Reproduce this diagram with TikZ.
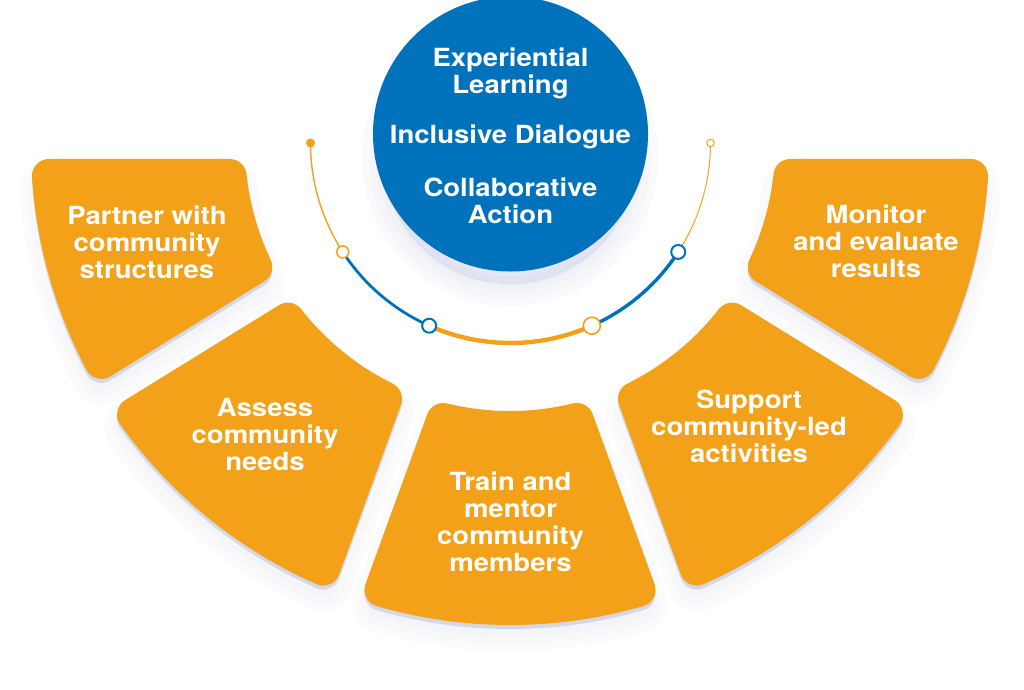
\documentclass[tikz,border=0pt]{standalone}
\usepackage{fontspec}
\setmainfont{TeX Gyre Heros}[FakeStretch=1.1]
\definecolor{cblue}{RGB}{0,114,188}
\definecolor{corange}{RGB}{244,161,26}
\definecolor{crim}{RGB}{212,215,232}
\definecolor{cshadow}{RGB}{160,165,205}
\newcommand\fanRo{479}
\newcommand\fanRi{265}
\newcommand\fanrho{17}
\newcommand\fancompute[4]{%
  \pgfmathsetmacro\fRo{\fanRo-\fanrho}%
  \pgfmathsetmacro\fRi{\fanRi+\fanrho}%
  \pgfmathsetmacro\aO{#1+asin((#3+\fanrho)/\fRo)}%
  \pgfmathsetmacro\bO{#2-asin((#4+\fanrho)/\fRo)}%
  \pgfmathsetmacro\aI{#1+asin((#3+\fanrho)/\fRi)}%
  \pgfmathsetmacro\bI{#2-asin((#4+\fanrho)/\fRi)}%
}
\newcommand\fanshape{(\aO:\fRo) arc[start angle=\aO,end angle=\bO,radius=\fRo] -- (\bI:\fRi) arc[start angle=\bI,end angle=\aI,radius=\fRi] -- cycle}
\begin{document}
\begin{tikzpicture}[x=1pt,y=-1pt,
  lbl/.style={text=white,font=\fontsize{25}{27}\selectfont\bfseries,anchor=base,inner sep=0pt},
  segfill/.style={fill=corange,draw=corange,line join=round,line width=2*\fanrho},
  segrim/.style={fill=crim,draw=crim,line join=round,line width=2*\fanrho},
  segshadow/.style={fill=cshadow,draw=cshadow,line join=round,opacity=0.04,line width=#1},
  dot/.style={circle,inner sep=0pt,fill=white}]
\useasboundingbox (0,0) rectangle (1024,689);

% ---------- shadow of the hub ----------
\foreach \w in {44,30,16,4}
  \path[fill=cshadow,draw=cshadow,opacity=0.05,line width=\w] (510,158) circle[radius=126];

% ---------- fan segments ----------
\begin{scope}[shift={(510,146)}]
  \foreach \lo/\hi/\dl/\dh in {148.3/180/14/13, 110/148.3/14/14, 70/110/14/14, 31.7/70/14/14, 0/31.7/13/14}{
    \fancompute{\lo}{\hi}{\dl}{\dh}
    \begin{scope}[shift={(0,14)}]
      \foreach \w in {58,44,30,16}
        \path[segshadow=\w] \fanshape;
    \end{scope}
  }
  \foreach \lo/\hi/\dl/\dh in {148.3/180/14/13, 110/148.3/14/14, 70/110/14/14, 31.7/70/14/14, 0/31.7/13/14}{
    \fancompute{\lo}{\hi}{\dl}{\dh}
    \path[segrim,shift={(0,4)}] \fanshape;
  }
  \foreach \lo/\hi/\dl/\dh in {148.3/180/14/13, 110/148.3/14/14, 70/110/14/14, 31.7/70/14/14, 0/31.7/13/14}{
    \fancompute{\lo}{\hi}{\dl}{\dh}
    \path[segfill] \fanshape;
  }
\end{scope}

% ---------- hub ----------
\node[circle,fill=cblue,minimum size=275,inner sep=0pt] (hub) at (510.5,134) {};
\node[lbl] (h1) at (510.5,66.5) {Experiential};
\node[lbl] (h2) at (510.5,93.5) {Learning};
\node[lbl] (h3) at (510.5,143.5) {Inclusive Dialogue};
\node[lbl] (h4) at (510.5,196.5) {Collaborative};
\node[lbl] (h5) at (510.5,223.5) {Action};

% ---------- arc with dots ----------
\begin{scope}[shift={(510.5,143)}]
  \coordinate (ac) at (0,0);
  \draw[corange,line width=1.4] (180:200) arc[start angle=180,end angle=147,radius=200];
  \draw[cblue,line width=2.8] (147:200) arc[start angle=147,end angle=114,radius=200];
  \draw[corange,line width=4.4] (114:200) arc[start angle=114,end angle=66,radius=200];
  \draw[cblue,line width=3.4] (66:200) arc[start angle=66,end angle=33,radius=200];
  \draw[corange,line width=1] (33:200) arc[start angle=33,end angle=0,radius=200];
  \node[dot,fill=corange,minimum size=9] (d0) at (180:200) {};
  \node[dot,draw=corange,line width=1.5,minimum size=12] (d1) at (147:200) {};
  \node[dot,draw=cblue,line width=2,minimum size=14] (d2) at (114:200) {};
  \node[dot,draw=corange,line width=1.6,minimum size=17] (d3) at (66:200) {};
  \node[dot,draw=cblue,line width=2,minimum size=14] (d4) at (33:200) {};
  \node[dot,draw=corange,line width=1,minimum size=7.5] (d5) at (0:200) {};
\end{scope}

% ---------- segment labels ----------
\node[lbl] (p1) at (147,224.5) {Partner with};
\node[lbl] (p2) at (147,251.5) {community};
\node[lbl] (p3) at (147,278.5) {structures};

\node[lbl] (a1) at (265,416.5) {Assess};
\node[lbl] (a2) at (265,443.5) {community};
\node[lbl] (a3) at (265,470.5) {needs};

\node[lbl] (t1) at (510.5,490.5) {Train and};
\node[lbl] (t2) at (510.5,517.5) {mentor};
\node[lbl] (t3) at (510.5,544.5) {community};
\node[lbl] (t4) at (510.5,571.5) {members};

\node[lbl] (s1) at (749,408.5) {Support};
\node[lbl] (s2) at (749,435.5) {community-led};
\node[lbl] (s3) at (749,462.5) {activities};

\node[lbl] (m1) at (876,223.5) {Monitor};
\node[lbl] (m2) at (876,250.5) {and evaluate};
\node[lbl] (m3) at (876,277.5) {results};
\end{tikzpicture}
\end{document}
